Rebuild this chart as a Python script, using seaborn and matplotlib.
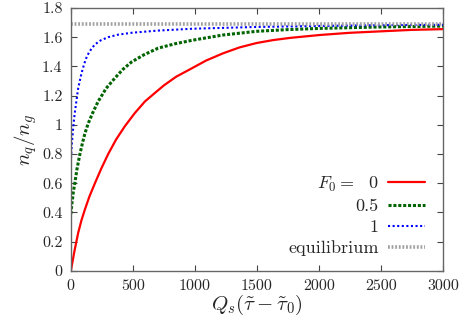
import pandas as pd
import matplotlib
import matplotlib.pyplot as plt
import seaborn as sns

# --- data ---
x_f0 = [0, 15, 30, 59, 85, 113, 150, 194, 245, 301, 365, 435, 515, 597, 680, 750, 850,
        960, 1090, 1228, 1360, 1497, 1630, 1766, 2008, 2250, 2500, 2750, 3000]
y_f0 = [0, 0.07, 0.14, 0.26, 0.345, 0.42, 0.51, 0.60, 0.70, 0.80, 0.90, 0.99, 1.08, 1.16,
        1.22, 1.27, 1.33, 1.38, 1.44, 1.49, 1.53, 1.56, 1.58, 1.595, 1.615, 1.63, 1.64,
        1.65, 1.655]

x_f05 = [0, 5, 10, 20, 32, 50, 73, 95, 113, 140, 175, 220, 285, 355, 420, 489, 590, 704,
         840, 986, 1228, 1497, 1750, 2008, 2500, 3000]
y_f05 = [0.39, 0.43, 0.47, 0.54, 0.60, 0.70, 0.80, 0.88, 0.94, 1.01, 1.08, 1.16, 1.25,
         1.32, 1.38, 1.43, 1.48, 1.525, 1.555, 1.58, 1.615, 1.64, 1.652, 1.66, 1.67, 1.676]

x_f1 = [0, 3, 8, 14, 19, 30, 46, 59, 72, 85, 100, 113, 130, 150, 170, 194, 240, 301, 380,
        489, 700, 986, 1500, 2008, 2500, 3000]
y_f1 = [0.74, 0.80, 0.87, 0.93, 0.98, 1.07, 1.17, 1.25, 1.30, 1.35, 1.395, 1.43, 1.47,
        1.50, 1.525, 1.55, 1.578, 1.60, 1.617, 1.63, 1.645, 1.658, 1.670, 1.677, 1.682, 1.685]

x_eq = [0, 3000]
y_eq = [1.69, 1.69]

labels = [r'$F_0 =$  0', '0.5', '1', 'equilibrium']
xticks = [0, 500, 1000, 1500, 2000, 2500, 3000]
yticks = [0, 0.2, 0.4, 0.6, 0.8, 1, 1.2, 1.4, 1.6, 1.8]
ytick_labels = ['0', '0.2', '0.4', '0.6', '0.8', '1', '1.2', '1.4', '1.6', '1.8']

# --- style ---
sns.set_style("ticks")
plt.rcParams['font.family'] = ['cmr10', 'DejaVu Serif']
plt.rcParams['mathtext.fontset'] = 'cm'
plt.rcParams['axes.unicode_minus'] = False
plt.rcParams['font.size'] = 11.5

fig = plt.figure(figsize=(4.63, 3.18), dpi=100)
ax = fig.add_axes([0.153, 0.148, 0.804, 0.827])

sns.lineplot(x=x_f0, y=y_f0, ax=ax, color='#ff0000', linewidth=1.6, label=labels[0])
sns.lineplot(x=x_f05, y=y_f05, ax=ax, color='#006400', linewidth=2.2, linestyle=(0, (1, 0.6)), label=labels[1])
sns.lineplot(x=x_f1, y=y_f1, ax=ax, color='#0000ff', linewidth=1.5, linestyle=(0, (1, 1.2)), label=labels[2])
sns.lineplot(x=x_eq, y=y_eq, ax=ax, color='#a0a0a0', linewidth=2.6, linestyle=(0, (0.5, 0.5)), label=labels[3])

ax.set_xlim(0, 3000)
ax.set_ylim(0, 1.8)
ax.set_xticks(xticks)
ax.set_xticklabels([str(t) for t in xticks])
ax.set_yticks(yticks)
ax.set_yticklabels(ytick_labels)
ax.tick_params(direction='in', top=True, right=True, length=4, width=0.8,
               color='#444444', labelsize=11.5, pad=6)
for s in ax.spines.values():
    s.set_color('#666666')
    s.set_linewidth(1.0)

ax.set_xlabel(r'$Q_s(\tilde{\tau}-\tilde{\tau}_0)$', fontsize=15, labelpad=0)
ax.set_ylabel(r'$n_q/n_g$', fontsize=15, labelpad=2)

# markerfirst=False right-aligns the rows, so texts end up right-aligned
ax.legend(loc='lower right', bbox_to_anchor=(0.972, 0.03), frameon=False,
          markerfirst=False, handlelength=2.1, handletextpad=0.5,
          labelspacing=0.28, borderaxespad=0, fontsize=13)

fig.savefig('out.png', dpi=100)
